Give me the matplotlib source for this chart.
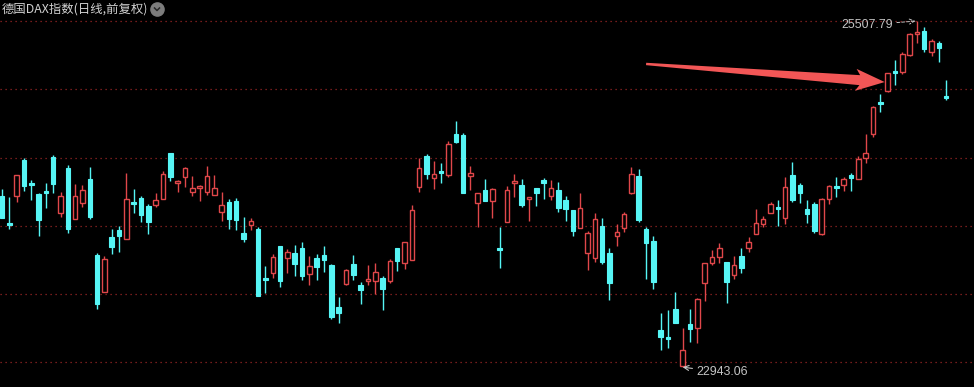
import numpy as np
import matplotlib
matplotlib.use("Agg")
import matplotlib.pyplot as plt

plt.rcParams['font.family'] = ['Noto Sans CJK SC', 'DejaVu Sans']

# daily OHLC values (德国DAX指数, 日线, 前复权)
opens = [
    24212, 24012, 24212, 24478, 24308, 24226, 24249, 24501, 24086, 24419,
    24041, 24160, 24338, 23774, 23500, 23908, 23960, 23893, 24167, 24197,
    24137, 24145, 24189, 24530, 24308, 24352, 24241, 24271, 24241, 24219,
    24093, 24167, 24175, 23937, 23997, 23967, 23604, 23641, 23841, 23752,
    23789, 23826, 23634, 23752, 23774, 23700, 23389, 23560, 23708, 23552,
    23582, 23582, 23604, 23582, 23826, 23715, 23737, 24278, 24508, 24345,
    24397, 24367, 24671, 24664, 24360, 24160, 24256, 24175, 23826, 24019,
    24308, 24293, 24189, 24271, 24330, 24212, 24256, 24182, 24108, 23975,
    23789, 23752, 23989, 23789, 23915, 23975, 24234, 24360, 23967, 23878,
    23219, 23167, 23374, 22955, 23263, 23234, 23567, 23715, 23760, 23723,
    23626, 23767, 23826, 23930, 24004, 24086, 24130, 24049, 24367, 24293,
    24115, 24152, 23930, 24189, 24286, 24293, 24367, 24338, 24493, 24671,
    24908, 24990, 25138, 25130, 25256, 25412, 25434, 25279, 25345, 24953,
]
highs = [
    24264, 24204, 24367, 24493, 24330, 24234, 24308, 24515, 24241, 24441,
    24301, 24293, 24427, 23789, 23767, 23967, 23989, 24382, 24264, 24212,
    24152, 24234, 24397, 24530, 24330, 24427, 24360, 24293, 24434, 24367,
    24241, 24189, 24197, 24056, 24049, 23982, 23693, 23782, 23841, 23819,
    23849, 23871, 23767, 23782, 23841, 23708, 23463, 23671, 23774, 23574,
    23700, 23715, 23619, 23745, 23826, 23871, 24145, 24493, 24523, 24471,
    24456, 24619, 24767, 24678, 24434, 24234, 24338, 24271, 23982, 24286,
    24375, 24338, 24204, 24271, 24345, 24330, 24315, 24212, 24108, 24234,
    23952, 24086, 24049, 23826, 24004, 24093, 24427, 24412, 23982, 23915,
    23345, 23367, 23500, 23234, 23374, 23456, 23715, 23811, 23863, 23723,
    23767, 23826, 23908, 24115, 24063, 24167, 24182, 24352, 24464, 24308,
    24182, 24167, 24197, 24293, 24352, 24352, 24382, 24508, 24671, 24879,
    24967, 25123, 25219, 25279, 25419, 25507.79, 25464, 25375, 25360, 25071,
]
lows = [
    24049, 23967, 24167, 24249, 24182, 23915, 24123, 24234, 24056, 23937,
    24041, 24130, 24041, 23374, 23500, 23782, 23797, 23893, 24086, 24019,
    23930, 24130, 24189, 24323, 24241, 24278, 24212, 24175, 24219, 24219,
    24026, 23967, 23960, 23871, 23960, 23471, 23493, 23604, 23537, 23641,
    23619, 23589, 23552, 23589, 23648, 23300, 23271, 23552, 23589, 23411,
    23552, 23486, 23367, 23567, 23656, 23671, 23737, 24241, 24338, 24264,
    24308, 24352, 24604, 24234, 24256, 23982, 24175, 24049, 23678, 24019,
    24204, 24130, 24026, 24137, 24189, 24182, 24093, 24026, 23915, 23975,
    23663, 23723, 23708, 23441, 23841, 23945, 24226, 24019, 23597, 23523,
    23071, 23085, 23271, 22943.06, 23130, 23122, 23434, 23700, 23715, 23419,
    23597, 23641, 23797, 23930, 23982, 24086, 23989, 24004, 24167, 24160,
    24012, 23937, 23923, 24152, 24204, 24249, 24249, 24338, 24456, 24649,
    24834, 24982, 25034, 25116, 25249, 25345, 25279, 25249, 25205, 24923,
]
closes = [
    24049, 23997, 24367, 24286, 24293, 24034, 24234, 24301, 24212, 23967,
    24212, 24256, 24056, 23411, 23745, 23834, 23915, 24189, 24152, 24071,
    24019, 24182, 24375, 24352, 24323, 24419, 24271, 24286, 24360, 24271,
    24145, 24041, 24034, 23893, 24026, 23471, 23589, 23760, 23582, 23797,
    23708, 23619, 23693, 23686, 23737, 23315, 23345, 23663, 23626, 23515,
    23597, 23648, 23523, 23730, 23730, 23871, 24108, 24419, 24375, 24375,
    24382, 24597, 24612, 24234, 24382, 24234, 24175, 24264, 23811, 24256,
    24323, 24145, 24204, 24234, 24308, 24271, 24123, 24115, 23952, 24123,
    23937, 24041, 23723, 23567, 23945, 24078, 24375, 24034, 23863, 23574,
    23167, 23152, 23271, 23071, 23226, 23448, 23715, 23760, 23826, 23574,
    23700, 23678, 23871, 24012, 24041, 24152, 24115, 24278, 24182, 24234,
    24078, 23952, 24189, 24286, 24271, 24338, 24345, 24486, 24530, 24871,
    24893, 25123, 25123, 25264, 25412, 25427, 25301, 25360, 25308, 24938,
]
grid_levels = [25507.79, 25002, 24491, 23987, 23483, 22979]
title = "德国DAX指数(日线,前复权)"

RED = '#e0474a'
CYAN = '#56f5f5'
BG = '#000000'

o = np.array(opens, dtype=float)
h = np.array(highs, dtype=float)
l = np.array(lows, dtype=float)
c = np.array(closes, dtype=float)
x = np.arange(len(o))
up = c >= o

fig = plt.figure(figsize=(9.74, 3.87), dpi=100, facecolor=BG)
ax = fig.add_axes([0, 0, 1, 1], facecolor=BG)

for lvl in grid_levels:
    ax.axhline(lvl, color='#9a2626', linestyle=(0, (1, 3)), linewidth=0.9, zorder=0)

body_lo = np.minimum(o, c)
body_hi = np.maximum(o, c)
height = np.maximum(body_hi - body_lo, 6)

# wicks (red ones stop at the hollow body)
ax.vlines(x[~up], l[~up], h[~up], color=CYAN, linewidth=1, zorder=2)
ax.vlines(x[up], l[up], body_lo[up], color=RED, linewidth=1, zorder=2)
ax.vlines(x[up], body_hi[up], h[up], color=RED, linewidth=1, zorder=2)

ax.bar(x[~up], height[~up], bottom=body_lo[~up], width=0.62,
       color=CYAN, edgecolor=CYAN, linewidth=0.8, zorder=3)
ax.bar(x[up], height[up], bottom=body_lo[up], width=0.62,
       color=BG, edgecolor=RED, linewidth=1.0, zorder=3)

ax.set_xlim(-0.27, 132.8)
ax.set_ylim(22796, 25664)
ax.axis('off')

# max / min markers
imax = int(np.argmax(h))
imin = int(np.argmin(l))
ax.annotate(f"{h[imax]:.2f}", xy=(imax - 0.2, h[imax]), xytext=(121.7, 25479),
            ha='right', va='center', color='#c4c4c4', fontsize=8.9,
            family=['Liberation Sans', 'DejaVu Sans'],
            arrowprops=dict(arrowstyle='->', color='#c4c4c4', linewidth=0.7,
                            linestyle=(0, (3, 2)), shrinkA=1, shrinkB=0))
ax.annotate(f"{l[imin]:.2f}", xy=(imin, l[imin]), xytext=(94.9, 22905),
            ha='left', va='center', color='#c4c4c4', fontsize=8.9,
            family=['Liberation Sans', 'DejaVu Sans'],
            arrowprops=dict(arrowstyle='->', color='#c4c4c4', linewidth=0.8,
                            shrinkA=1, shrinkB=0))

# big red pointer arrow: thin tail widening toward a broad head (built in pixels)
tail = ax.transData.transform((88.0, 25190))
tip = ax.transData.transform((120.6, 25056))
u = (tip - tail) / np.hypot(*(tip - tail))
n = np.array([-u[1], u[0]])
base = tip - u * 25
pts_px = np.array([tail + n * 1.2, base + n * 5.0, base - u * 4 + n * 11.0, tip,
                   base - u * 4 - n * 11.0, base - n * 5.0, tail - n * 1.2])
pts = ax.transData.inverted().transform(pts_px)
ax.fill(pts[:, 0], pts[:, 1], color='#f25656', linewidth=0, zorder=5)

# title and dropdown badge
fig.text(2 / 974, 1 - 9 / 387, title, color='#d2d2d2', fontsize=8.9,
         ha='left', va='center')
fig.lines.append(plt.Line2D([157 / 974], [1 - 9 / 387], transform=fig.transFigure,
                            marker='o', markersize=9.5, color='#7c7c7c', linestyle='none'))
fig.lines.append(plt.Line2D([154.5 / 974, 157 / 974, 159.5 / 974],
                            [1 - 8 / 387, 1 - 10.5 / 387, 1 - 8 / 387],
                            transform=fig.transFigure, color='#262626', linewidth=1.1))

fig.savefig('out.png', dpi=100, facecolor=BG)
